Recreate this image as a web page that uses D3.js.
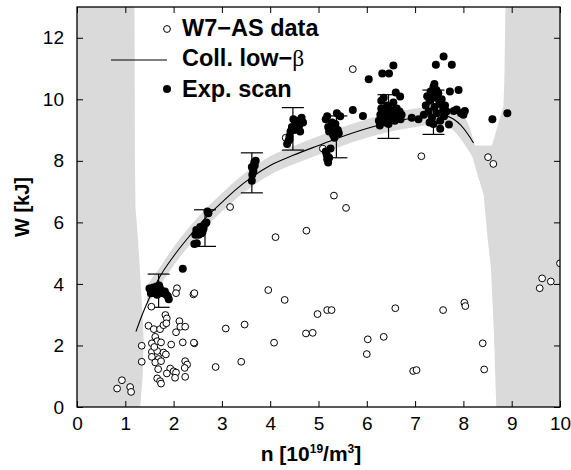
<!DOCTYPE html>
<html><head><meta charset="utf-8">
<script src="https://cdn.jsdelivr.net/npm/d3@7"></script>
<style>body{margin:0;background:#fff}svg{display:block}</style>
</head><body>
<script>
// ---- data ----
const xTicks = [0,1,2,3,4,5,6,7,8,9,10];
const yTicks = [0,2,4,6,8,10,12];

// Collisional low-beta model curve
const curveX = [1.22,1.35,1.5,1.7,2.0,2.3,2.65,3.0,3.3,3.62,4.0,4.46,5.0,5.37,6.0,6.45,7.0,7.38,7.6,7.8,7.95,8.1,8.21];
const curveY = [2.45,3.0,3.55,4.19,4.9,5.5,6.12,6.65,7.08,7.47,7.85,8.17,8.5,8.72,9.05,9.24,9.4,9.47,9.47,9.35,9.15,8.85,8.58];

// shaded band around the curve
const bandX  = [1.45,1.7,2.0,2.3,2.65,3.0,3.3,3.62,4.0,4.46,5.0,5.37,6.0,6.45,7.0,7.38,7.6,7.8,7.95,8.1,8.24];
const bandHi = [3.95,4.5,5.2,5.8,6.42,6.95,7.38,7.77,8.15,8.47,8.8,9.02,9.35,9.54,9.7,9.77,9.77,9.67,9.55,9.2,8.5];
const bandLo = [3.3,3.9,4.6,5.2,5.82,6.35,6.78,7.17,7.55,7.87,8.2,8.42,8.75,8.94,9.1,9.17,9.15,8.98,8.7,8.35,8.0];

// left shaded region boundary (top to bottom)
const leftX = [1.19,1.2,1.21,1.26,1.3,1.35,1.38,1.36,1.31];
const leftY = [13,8,6.5,5.5,4.5,3.2,2.2,1.0,0];

// right shaded region outline
const rightX = [8.1,8.24,8.59,8.83,8.85,8.87,10,10,8.68,8.63,8.57,8.5,8.42,8.3,8.15];
const rightY = [8.55,8.5,8.5,9.8,10.8,13,13,0,0,2.5,4.5,5.5,6.9,7.5,8.35];

// error bars
const errX  = [1.69,2.65,3.62,4.47,5.37,6.45,7.38];
const errLo = [3.24,5.22,6.96,8.35,8.1,8.73,8.86];
const errHi = [4.32,6.41,8.26,9.73,9.46,10.15,10.3];

// W7-AS data (open circles)
const w7x = [0.83,0.93,1.10,1.12,1.34,1.34,1.54,1.48,1.59,1.72,1.79,1.83,1.86,1.85,2.07,2.05,2.41,2.12,2.14,2.24,2.05,1.62,1.66,1.55,1.74,1.95,2.19,2.43,
  1.55,1.66,1.79,1.84,1.55,1.69,1.62,1.74,2.24,2.28,2.23,1.93,2.0,2.05,1.86,1.68,1.66,1.72,2.03,2.24,1.74,1.6,
  2.87,2.42,2.43,3.08,3.47,3.40,3.17,3.96,4.08,4.11,4.30,4.32,4.74,4.75,4.88,4.98,5.09,5.18,5.27,5.32,5.57,5.71,
  6.0,6.02,6.35,6.59,6.96,7.03,7.13,7.58,8.02,8.04,8.40,8.43,8.51,8.62,9.58,9.63,9.81,10.0];
const w7y = [0.60,0.87,0.65,0.49,1.99,1.47,3.26,2.64,2.53,2.53,2.66,2.99,2.88,2.72,3.86,3.70,3.66,2.79,2.61,2.61,2.43,2.28,2.14,2.07,2.10,2.03,2.10,2.07,
  1.79,1.82,1.77,1.71,1.63,1.56,1.45,1.49,1.49,1.38,1.27,1.25,1.16,1.12,1.09,1.23,0.93,0.84,0.95,0.98,0.76,1.95,
  1.30,2.09,3.70,2.55,2.68,1.47,6.50,3.80,2.09,5.52,3.48,8.75,2.39,5.73,2.41,3.02,8.40,3.15,3.15,6.87,6.47,10.98,
  1.72,2.20,2.28,3.21,1.17,1.20,8.15,3.15,3.39,3.28,2.07,1.22,8.12,7.90,3.86,4.18,4.08,4.67];

// experimental scan (filled circles)
const expX = [1.50,1.55,1.58,1.62,1.65,1.68,1.70,1.72,1.75,1.60,1.78,1.82,1.85,1.88,1.90,1.66,1.53,2.19,
  2.43,2.48,2.45,2.50,2.55,2.52,2.58,2.62,2.65,2.60,2.68,2.70,2.72,2.55,2.47,
  3.62,3.63,3.65,3.62,3.67,3.70,3.65,3.68,
  4.35,4.38,4.40,4.42,4.45,4.48,4.52,4.55,4.60,4.65,4.68,4.62,4.50,4.40,4.58,
  5.15,5.18,5.20,5.22,5.25,5.30,5.35,5.38,5.40,5.42,5.28,5.33,5.45,5.17,5.18,5.20,5.22,5.15,5.25,5.71,5.92,6.04,
  6.25,6.28,6.30,6.32,6.35,6.38,6.40,6.42,6.45,6.48,6.50,6.52,6.55,6.58,6.60,6.62,6.65,6.68,6.70,6.30,6.27,6.45,6.35,6.72,
  6.55,6.32,6.46,6.60,6.69,6.93,7.07,
  7.18,7.22,7.25,7.28,7.30,7.32,7.35,7.38,7.40,7.42,7.45,7.48,7.50,7.52,7.55,7.58,7.60,7.62,7.65,7.30,7.38,7.44,7.35,7.80,7.95,8.00,7.40,
  7.59,7.43,7.76,7.72,7.90,7.86,8.03,7.52,7.70,8.60,8.91];
const expY = [3.85,3.75,3.88,3.80,3.92,3.72,3.95,3.85,3.78,3.70,3.70,3.75,3.65,3.60,3.50,3.65,3.70,4.49,
  5.30,5.32,5.60,5.70,5.75,5.60,5.65,5.80,5.95,5.70,6.00,6.35,6.30,5.85,5.75,
  7.35,7.55,7.70,7.80,7.95,8.00,7.65,7.85,
  8.55,8.65,8.80,8.95,9.10,9.35,9.20,9.05,9.15,9.40,9.25,8.95,9.00,8.70,9.30,
  9.35,9.45,9.10,8.95,9.00,8.85,9.20,9.55,9.00,8.90,9.25,8.75,9.45,8.20,8.05,7.95,8.10,8.30,8.40,9.65,9.46,10.65,
  9.30,9.50,9.70,9.40,9.60,9.25,9.45,9.80,9.55,9.35,9.65,9.45,9.90,9.30,9.55,9.70,9.40,9.60,9.35,9.95,9.15,9.20,10.05,9.50,
  11.10,10.84,10.84,10.22,10.09,9.40,9.35,
  9.50,9.80,10.10,9.60,9.95,10.25,9.40,10.40,9.75,10.05,9.55,10.20,9.85,9.30,10.00,9.65,9.45,9.80,9.60,9.25,9.20,10.30,10.15,9.62,9.55,9.50,10.50,
  11.39,11.12,11.12,10.25,10.30,9.67,9.62,9.04,9.18,9.35,9.55];

const legendLabels = ["W7\u2212AS data","Coll. low\u2212","Exp. scan"];

// ---- layout ----
const W = 571, H = 470;
const m = {l:77, r:560, t:7, b:407};
const x = d3.scaleLinear().domain([0,10]).range([m.l,m.r]);
const y = d3.scaleLinear().domain([0,13]).range([m.b,m.t]);
const gray = "#dadada";
const font = "'Liberation Sans', Arial, Helvetica, sans-serif";

const svg = d3.select("body").append("svg").attr("width",W).attr("height",H);
svg.append("defs").append("clipPath").attr("id","clip")
  .append("rect").attr("x",m.l).attr("y",m.t).attr("width",m.r-m.l).attr("height",m.b-m.t);
const plot = svg.append("g").attr("clip-path","url(#clip)");

// shaded regions
const leftPoly = [[0,13]].concat(leftX.map((v,i)=>[v,leftY[i]])).concat([[0,0]]);
plot.append("path").attr("d", d3.line().x(d=>x(d[0])).y(d=>y(d[1]))(leftPoly)+"Z").attr("fill",gray);

const bandArea = d3.area().x((d,i)=>x(bandX[i])).y0((d,i)=>y(bandLo[i])).y1((d,i)=>y(bandHi[i])).curve(d3.curveMonotoneX);
plot.append("path").attr("d", bandArea(bandX)).attr("fill",gray);

const rightPoly = rightX.map((v,i)=>[v,rightY[i]]);
plot.append("path").attr("d", d3.line().x(d=>x(d[0])).y(d=>y(d[1]))(rightPoly)+"Z").attr("fill",gray);

// model curve
plot.append("path")
  .attr("d", d3.line().x((d,i)=>x(curveX[i])).y((d,i)=>y(curveY[i])).curve(d3.curveMonotoneX)(curveX))
  .attr("fill","none").attr("stroke","#000").attr("stroke-width",1.1);

// error bars
const eb = plot.append("g").attr("stroke","#000").attr("stroke-width",1.2);
errX.forEach((v,i)=>{
  eb.append("line").attr("x1",x(v)).attr("x2",x(v)).attr("y1",y(errLo[i])).attr("y2",y(errHi[i]));
  eb.append("line").attr("x1",x(v)-11).attr("x2",x(v)+11).attr("y1",y(errLo[i])).attr("y2",y(errLo[i]));
  eb.append("line").attr("x1",x(v)-11).attr("x2",x(v)+11).attr("y1",y(errHi[i])).attr("y2",y(errHi[i]));
});

// open circles
plot.append("g").selectAll("circle").data(w7x).join("circle")
  .attr("cx",d=>x(d)).attr("cy",(d,i)=>y(w7y[i])).attr("r",3.4)
  .attr("fill","#fff").attr("stroke","#000").attr("stroke-width",1);

// filled circles
plot.append("g").selectAll("circle").data(expX).join("circle")
  .attr("cx",d=>x(d)).attr("cy",(d,i)=>y(expY[i])).attr("r",4)
  .attr("fill","#000");

// axes (ticks inward on all sides)
const tl = 6;
svg.append("g").attr("transform",`translate(0,${m.b})`)
  .call(d3.axisBottom(x).tickValues(xTicks).tickSize(-tl).tickPadding(10).tickFormat(d3.format("d")))
  .call(g=>g.select(".domain").remove());
svg.append("g").attr("transform",`translate(0,${m.t})`)
  .call(d3.axisTop(x).tickValues(xTicks).tickSize(-tl).tickFormat(""))
  .call(g=>g.select(".domain").remove());
svg.append("g").attr("transform",`translate(${m.l},0)`)
  .call(d3.axisLeft(y).tickValues(yTicks).tickSize(-tl).tickPadding(13).tickFormat(d3.format("d")))
  .call(g=>g.select(".domain").remove());
svg.append("g").attr("transform",`translate(${m.r},0)`)
  .call(d3.axisRight(y).tickValues(yTicks).tickSize(-tl).tickFormat(""))
  .call(g=>g.select(".domain").remove());
svg.selectAll(".tick line").attr("stroke","#000").attr("stroke-width",1);
svg.selectAll(".tick text").attr("font-family",font).attr("font-size",19).attr("fill","#000");

svg.append("rect").attr("x",m.l).attr("y",m.t).attr("width",m.r-m.l).attr("height",m.b-m.t)
  .attr("fill","none").attr("stroke","#000").attr("stroke-width",1.3);

// axis labels
const xl = svg.append("text").attr("x",311).attr("y",461).attr("text-anchor","middle")
  .attr("font-family",font).attr("font-weight","bold").attr("font-size",21);
xl.append("tspan").text("n [10");
xl.append("tspan").attr("dy",-8).attr("font-size",12).text("19");
xl.append("tspan").attr("dy",8).text("/m");
xl.append("tspan").attr("dy",-8).attr("font-size",12).text("3");
xl.append("tspan").attr("dy",8).text("]");

svg.append("text").attr("transform",`translate(29,${(m.t+m.b)/2}) rotate(-90)`)
  .attr("text-anchor","middle").attr("font-family",font).attr("font-weight","bold").attr("font-size",20)
  .text("W [kJ]");

// legend
const lg = svg.append("g");
lg.append("circle").attr("cx",167).attr("cy",29).attr("r",3.4).attr("fill","#fff").attr("stroke","#000");
lg.append("line").attr("x1",111).attr("x2",167).attr("y1",60).attr("y2",60).attr("stroke","#000").attr("stroke-width",1);
lg.append("circle").attr("cx",167).attr("cy",89).attr("r",4).attr("fill","#000");
[36,66,97].forEach((yy,i)=>{
  const t = lg.append("text").attr("x",182).attr("y",yy).attr("font-family",font)
    .attr("font-weight","bold").attr("font-size",23.5).text(legendLabels[i]);
  if(i===1) t.append("tspan").attr("font-family","'Liberation Serif','DejaVu Serif',serif")
    .attr("font-weight","normal").text("\u03b2");
});
</script>
</body></html>
